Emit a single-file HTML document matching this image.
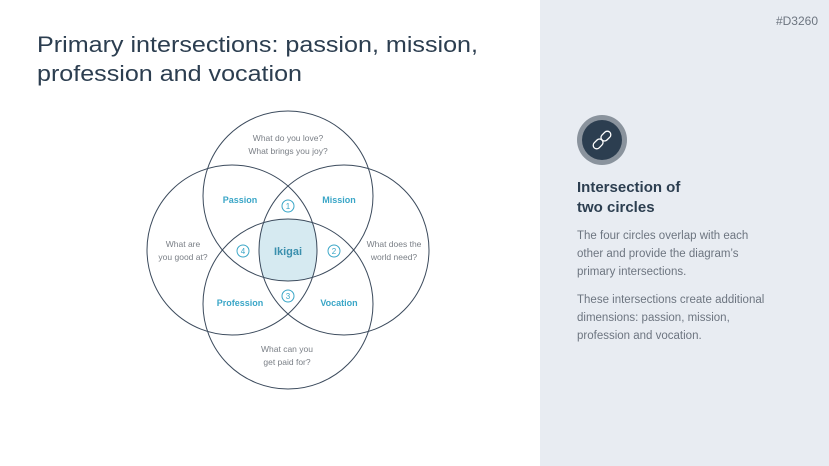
<!DOCTYPE html>
<html><head><meta charset="utf-8"><style>
html,body{margin:0;padding:0;background:#fff}
svg{display:block}
text{font-family:"Liberation Sans",sans-serif}
</style></head><body>
<svg width="829" height="466" viewBox="0 0 829 466" xmlns="http://www.w3.org/2000/svg">
<rect x="540" y="0" width="289" height="466" fill="#e8ecf2"/>
<text x="818" y="25" font-size="12" fill="#6d7580" text-anchor="end">#D3260</text>
<text x="37" y="52" font-size="22" fill="#2c3e50" textLength="441" lengthAdjust="spacingAndGlyphs">Primary intersections: passion, mission,</text>
<text x="37" y="81" font-size="22" fill="#2c3e50" textLength="265" lengthAdjust="spacingAndGlyphs">profession and vocation</text>
<defs>
<clipPath id="c1"><circle cx="288" cy="196" r="85"/></clipPath>
<clipPath id="c2"><circle cx="232" cy="250" r="85"/></clipPath>
<clipPath id="c3"><circle cx="344" cy="250" r="85"/></clipPath>
<clipPath id="c4"><circle cx="288" cy="304" r="85"/></clipPath>
</defs>
<g clip-path="url(#c1)"><g clip-path="url(#c2)"><g clip-path="url(#c3)"><g clip-path="url(#c4)">
<rect x="200" y="150" width="200" height="200" fill="#d6eaf1"/>
</g></g></g></g>
<g fill="none" stroke="#3b4a5c" stroke-width="1">
<circle cx="288" cy="196" r="85"/>
<circle cx="232" cy="250" r="85"/>
<circle cx="344" cy="250" r="85"/>
<circle cx="288" cy="304" r="85"/>
</g>
<g font-size="8.5" fill="#7a7f86" text-anchor="middle">
<text x="288" y="141">What do you love?</text>
<text x="288" y="154">What brings you joy?</text>
<text x="183" y="247">What are</text>
<text x="183" y="260">you good at?</text>
<text x="394" y="247">What does the</text>
<text x="394" y="260">world need?</text>
<text x="287" y="352">What can you</text>
<text x="287" y="365">get paid for?</text>
</g>
<g font-size="9" font-weight="bold" fill="#3aa6c7" text-anchor="middle">
<text x="240" y="203">Passion</text>
<text x="339" y="203">Mission</text>
<text x="240" y="306">Profession</text>
<text x="339" y="306">Vocation</text>
</g>
<text x="288" y="255" font-size="11" font-weight="bold" fill="#3a8fad" text-anchor="middle">Ikigai</text>
<g fill="none" stroke="#3aa6c7" stroke-width="1">
<circle cx="288" cy="206" r="6"/><circle cx="334" cy="251" r="6"/>
<circle cx="288" cy="296" r="6"/><circle cx="243" cy="251" r="6"/>
</g>
<g font-size="8" fill="#3aa6c7" text-anchor="middle">
<text x="288" y="209">1</text><text x="334" y="254">2</text>
<text x="288" y="299">3</text><text x="243" y="254">4</text>
</g>
<circle cx="602" cy="140" r="25" fill="#8a939d"/>
<circle cx="602" cy="140" r="20" fill="#2c3e50"/>
<g fill="none" stroke="#fff" stroke-width="1.3" transform="rotate(-45 602 140)">
<rect x="591" y="136.5" width="11" height="7" rx="3.5"/>
<rect x="602" y="136.5" width="11" height="7" rx="3.5"/>
</g>
<text x="577" y="192" font-size="15" font-weight="bold" fill="#2c3e50">Intersection of</text>
<text x="577" y="212" font-size="15" font-weight="bold" fill="#2c3e50">two circles</text>
<g font-size="11.5" fill="#6d7580">
<text x="577" y="239">The four circles overlap with each</text>
<text x="577" y="257">other and provide the diagram’s</text>
<text x="577" y="275">primary intersections.</text>
<text x="577" y="303">These intersections create additional</text>
<text x="577" y="321">dimensions: passion, mission,</text>
<text x="577" y="339">profession and vocation.</text>
</g>
</svg>
</body></html>
